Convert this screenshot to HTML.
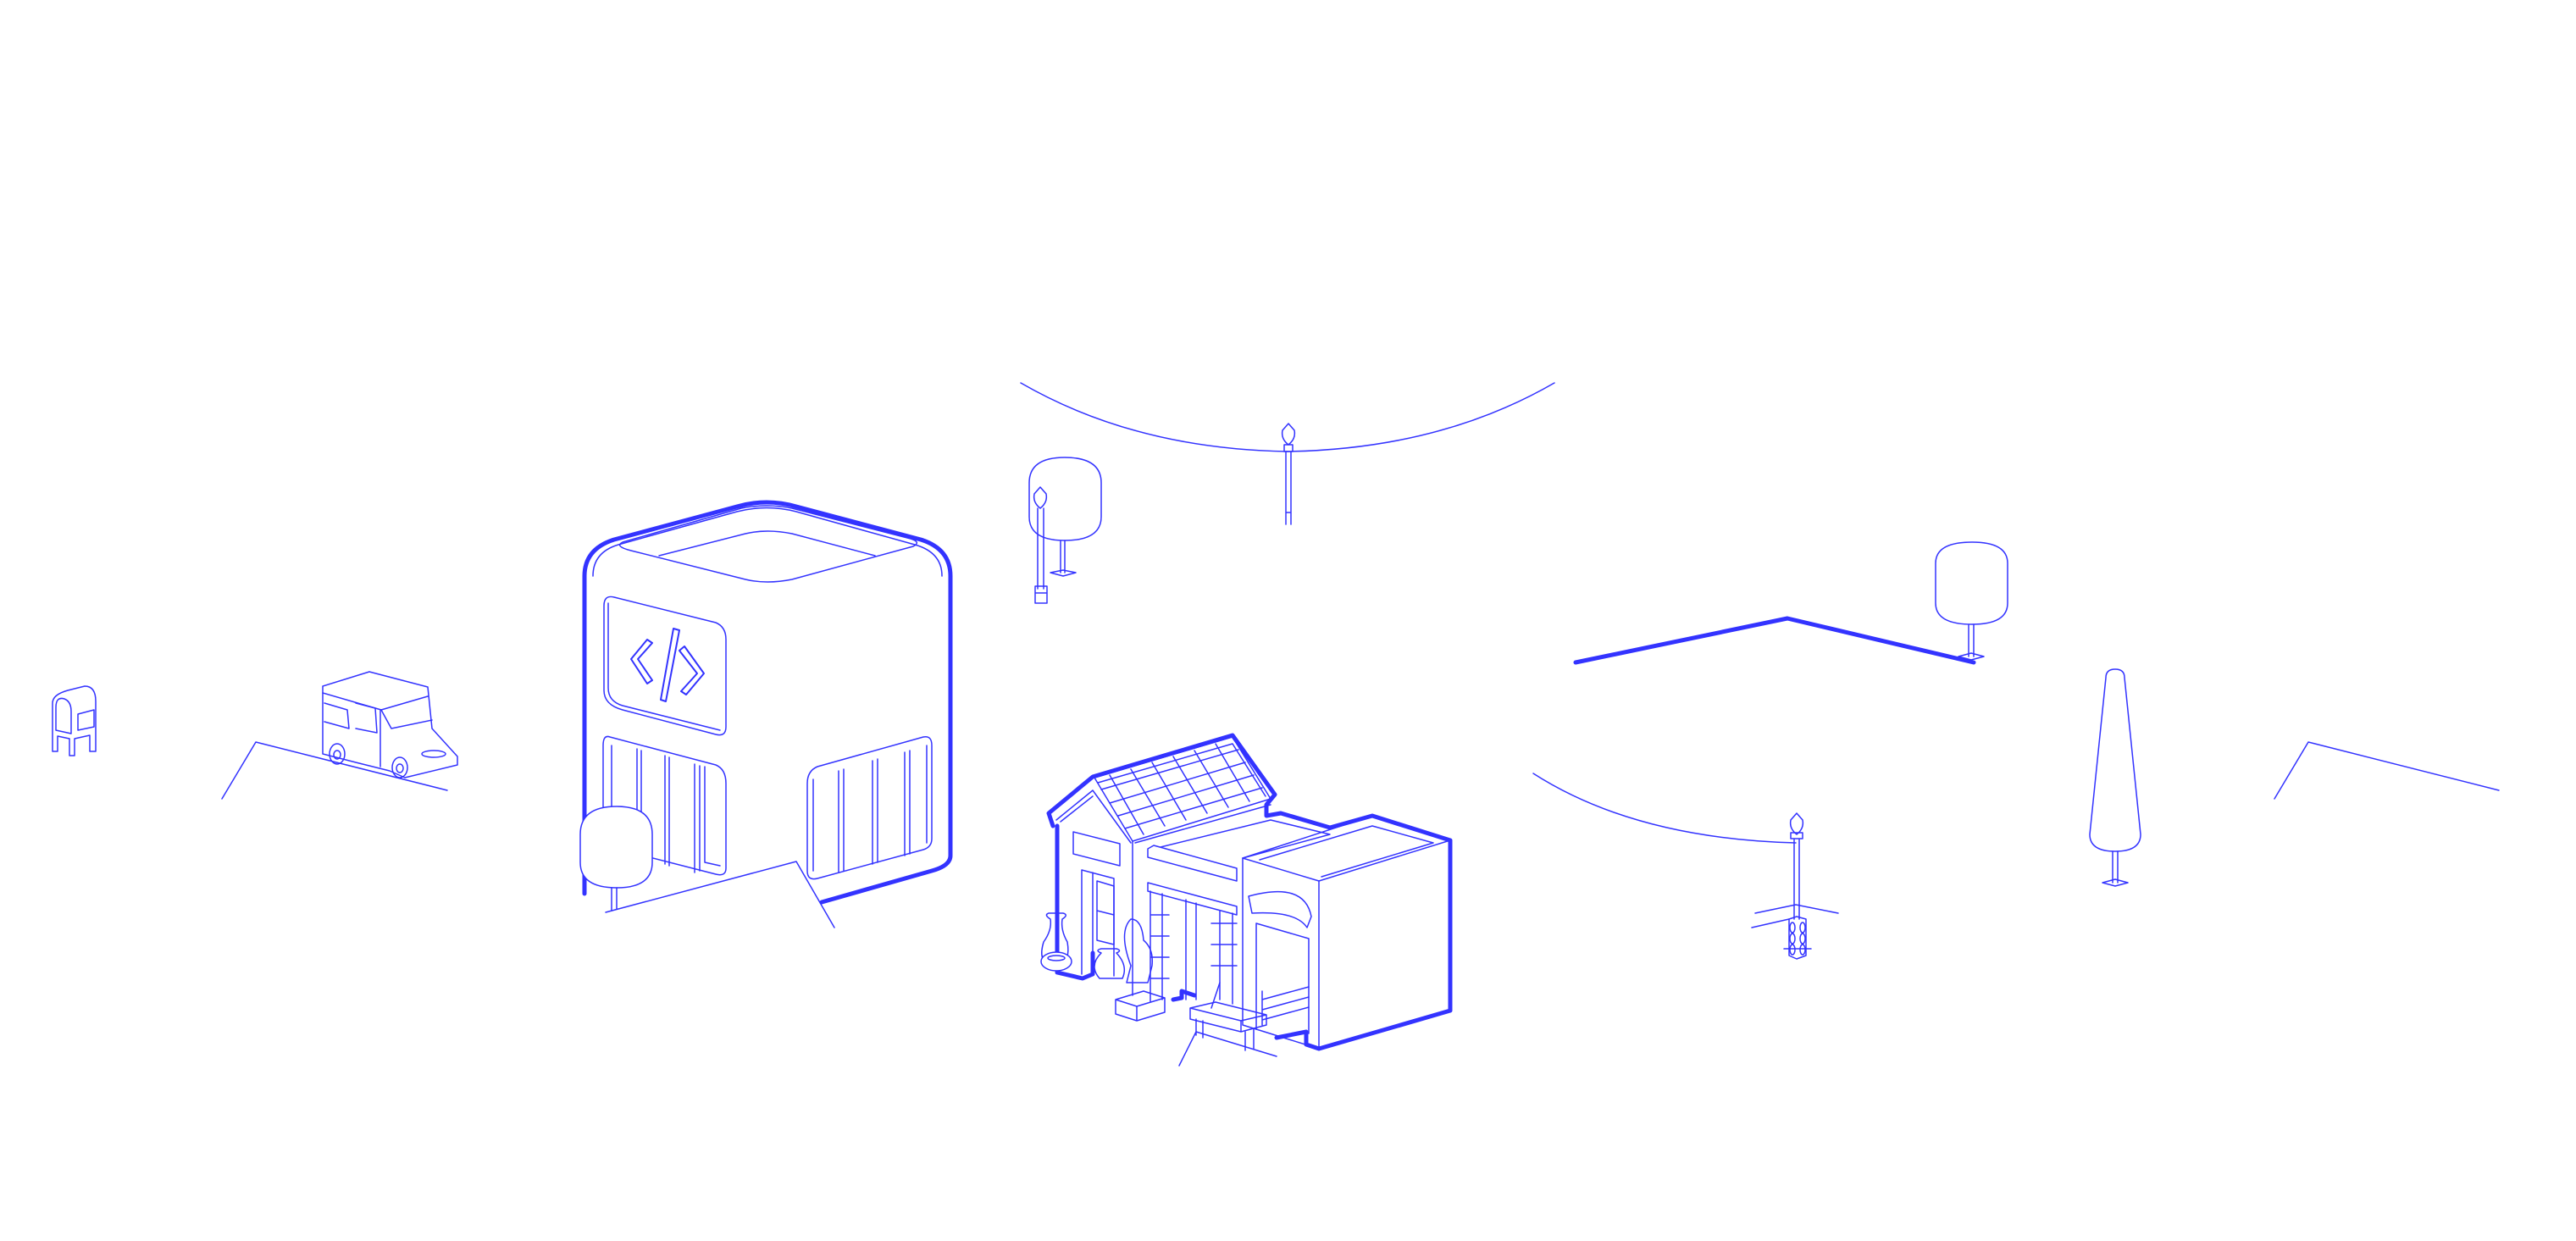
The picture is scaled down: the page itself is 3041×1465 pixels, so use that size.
<!DOCTYPE html>
<html><head><meta charset="utf-8"><style>
html,body{margin:0;padding:0;background:#fff;}
svg{display:block}
</style></head><body>
<svg width="3041" height="1465" viewBox="0 0 3041 1465" xmlns="http://www.w3.org/2000/svg">
<g fill="none" stroke="#3333ff" stroke-linejoin="round" stroke-linecap="round">
<!-- left ground + mailbox + truck -->
<g stroke-width="1.5">
<polyline points="262,943 302,876 528,933"/>
<path d="M62,887 V830 Q62,820 80,815 L100,810 Q113,810 113,828 V887 H106 V868 L88,872 V892 H82 V872 L68,869 V887 Z"/>
<path d="M66,862 V835 Q66,822 76,825 Q84,828 84,840 V866 Z"/>
<path d="M92,843 L111,838 V858 L92,862 Z"/>
<path d="M381,810 L436,793 L505,811 L510,860 L530,882 L540,893 L540,903 L478,918 L460,910 L420,900 L381,890 Z"/>
<path d="M381,818 L450,838 L505,822"/>
<path d="M450,838 L462,860 L510,850"/>
<path d="M383,830 L410,838 L412,860 L383,852"/>
<path d="M420,830 L443,836 L445,865 L420,860"/>
<line x1="449" y1="838" x2="449" y2="905"/>
<ellipse cx="398" cy="890" rx="9" ry="12"/><ellipse cx="398" cy="891" rx="4" ry="5"/>
<ellipse cx="472" cy="906" rx="9" ry="12"/><ellipse cx="472" cy="907" rx="4" ry="5"/>
<ellipse cx="512" cy="890" rx="14" ry="4"/>
</g>

<!-- big building -->
<g>
<path stroke-width="5" d="M690,1055 V680 Q690,648 725,637 L870,598 Q905,588 940,598 L1087,637 Q1122,648 1122,680 V1010 Q1122,1022 1100,1028 L970,1065"/>
<path stroke-width="1.5" d="M700,680 Q700,652 730,643 L870,604 Q905,595 940,604 L1080,643 Q1112,652 1112,680"/>
<path stroke-width="1.5" d="M735,640 Q725,645 745,650 L880,684 Q905,690 935,684 L1078,645 Q1088,640 1075,636 L935,600 Q905,594 875,600 Z"/>
<path stroke-width="1.5" d="M778,656 L880,630 Q905,624 935,630 L1033,656"/>
<path stroke-width="1.5" d="M725,705 L845,735 Q857,740 857,755 V858 Q857,870 845,867 L735,838 Q713,832 713,815 V715 Q713,702 725,705 Z"/>
<path stroke-width="1.5" d="M718,712 V812 Q718,828 735,833 L850,862"/>
<path stroke-width="2" d="M764,755 L745,778 L764,807 L770,803 L753,778 L770,759 Z"/>
<path stroke-width="2" d="M795,742 L802,744 L786,828 L780,826 Z"/>
<path stroke-width="2" d="M808,763 L831,795 L810,820 L804,816 L823,795 L802,768 Z"/>
<path stroke-width="1.5" d="M720,870 L845,903 Q857,908 857,925 V1025 Q857,1035 845,1032 L720,1000 Q712,997 712,985 V880 Q712,867 720,870 Z"/>
<path stroke-width="1.5" d="M722,880 V990 M752,884 V1010 M757,886 V1012 M785,892 V1020 M790,894 V1022 M820,902 V1030 M826,904 V1028 M832,905 V1018 L850,1022"/>
<path stroke-width="1.5" d="M965,905 L1090,870 Q1100,868 1100,880 V990 Q1100,1000 1090,1003 L965,1037 Q953,1040 953,1028 V925 Q953,910 965,905 Z"/>
<path stroke-width="1.5" d="M960,920 V1028 M990,910 V1030 M996,908 V1028 M1030,898 V1020 M1036,896 V1018 M1068,888 V1010 M1074,886 V1008 M1094,880 V995"/>
<path stroke-width="1.5" fill="#fff" d="M685,985 Q685,952 728,952 Q770,952 770,985 V1018 Q770,1048 728,1048 Q685,1048 685,1018 Z"/>
<path stroke-width="1.5" d="M722,1048 V1075 M728,1048 V1073"/>
<polyline stroke-width="1.5" points="715,1077 940,1017 985,1095"/>
</g>

<!-- center arc, lamps, tree -->
<g stroke-width="1.5">
<path d="M1205,452 Q1340,530 1520,533 Q1700,530 1835,452"/>
<path d="M1518,533 V619 M1524,533 V619 M1518,605 H1524 M1516,525 H1526 V533 H1516 Z"/>
<path d="M1521,500 L1528,508 Q1530,518 1521,525 Q1512,518 1514,508 Z"/>
<path d="M1215,570 Q1215,540 1257,540 Q1300,540 1300,570 V610 Q1300,638 1257,638 Q1215,638 1215,610 Z"/>
<path d="M1252,638 V676 M1257,638 V676 M1240,676 L1255,673 L1270,676 L1255,680 Z"/>
<path d="M1225,600 V695 M1232,600 V695 M1222,692 H1236 V712 H1222 Z M1222,700 H1236"/>
<path d="M1228,575 L1235,583 Q1237,593 1228,600 Q1219,593 1221,583 Z"/>
</g>

<!-- workshop -->
<g>
<path stroke-width="5" d="M1248,1148 L1278,1155 L1290,1150 V1125 M1243,975 L1238,960 L1290,917 L1455,868 L1505,938 L1495,950 V963 L1512,960 L1570,977 L1620,963 L1712,992 V1193 L1557,1238 L1542,1233 V1218 L1507,1225 M1248,975 V1148"/>
<path stroke-width="5" d="M1385,1180 L1395,1178 V1170 L1410,1175"/>
<g stroke-width="1.5">
<path d="M1292,918 L1455,870 L1500,943 L1337,993 Z"/>
<path d="M1296,924 L1455,878 L1494,940"/>
<path d="M1247,968 L1290,933 L1335,995 M1252,970 L1290,940"/>
<path d="M1310,915 L1350,985 M1335,908 L1375,975 M1360,900 L1400,968 M1385,893 L1425,960 M1410,886 L1450,953 M1435,878 L1475,946"/>
<path d="M1300,932 L1462,885 M1310,948 L1470,900 M1320,963 L1480,915 M1328,978 L1490,930"/>
<path d="M1337,993 V1175 M1340,995 L1500,950"/>
<path d="M1267,982 L1322,996 V1022 L1267,1008 Z"/>
<path d="M1277,1027 L1315,1037 V1152 M1277,1027 V1150 M1290,1030 V1150"/>
<path d="M1295,1040 L1315,1046 V1115 L1295,1110 Z M1295,1075 L1315,1080"/>
<path d="M1355,1002 L1362,998 L1460,1025 V1040 L1355,1012 Z"/>
<path d="M1355,1042 L1460,1070 V1080 L1355,1052 Z"/>
<path d="M1358,1052 V1182 M1372,1055 V1180 M1400,1062 V1180 M1412,1066 V1180 M1440,1075 V1180 M1455,1078 V1185 M1358,1080 H1380 M1358,1105 H1380 M1358,1130 H1380 M1358,1155 H1380 M1430,1090 H1460 M1430,1115 H1460 M1430,1140 H1460"/>
<path d="M1370,1000 L1500,968 L1570,985 L1467,1013"/>
<path d="M1467,1013 L1620,963 L1712,992 L1557,1040 Z"/>
<path d="M1487,1015 L1620,975 L1692,995 L1560,1035"/>
<path d="M1467,1013 V1210 L1557,1238 M1557,1040 V1238"/>
<path d="M1474,1058 Q1540,1040 1548,1082 L1543,1095 Q1530,1075 1478,1078 Z"/>
<path d="M1483,1090 L1545,1108 V1220 M1483,1090 V1215"/>
<path d="M1490,1180 L1545,1165 M1490,1192 L1545,1177 M1490,1204 L1545,1189 M1490,1170 V1210"/>
<path d="M1240,1085 Q1232,1080 1238,1078 H1255 Q1262,1080 1254,1085 Q1252,1098 1260,1112 Q1264,1135 1250,1140 H1240 Q1225,1135 1232,1112 Q1242,1098 1240,1085 Z"/>
<ellipse cx="1247" cy="1135" rx="18" ry="11" fill="#fff"/>
<ellipse cx="1247" cy="1131" rx="10" ry="3"/>
<path d="M1300,1125 Q1292,1122 1300,1120 H1318 Q1325,1122 1318,1125 Q1332,1140 1325,1155 H1298 Q1285,1140 1300,1125 Z"/>
<path d="M1335,1140 Q1320,1100 1335,1085 Q1348,1085 1350,1110 Q1362,1120 1360,1140 L1355,1160 H1330 Z"/>
<path d="M1317,1180 L1350,1170 L1375,1178 V1195 L1342,1205 L1317,1197 Z M1317,1180 L1342,1188 L1375,1178 M1342,1188 V1205"/>
<path d="M1405,1190 L1435,1183 L1495,1198 V1210 L1465,1218 L1405,1203 Z M1405,1190 L1465,1205 L1495,1198 M1465,1205 V1218"/>
<path d="M1412,1203 V1222 M1420,1205 V1225 M1470,1218 V1240 M1480,1215 V1238 M1430,1190 L1440,1160"/>
<polyline points="1392,1258 1412,1218 1507,1247"/>
</g>
</g>

<!-- right side -->
<g>
<polyline stroke-width="5" points="1860,782 2110,730 2330,782"/>
<g stroke-width="1.5">
<path d="M2285,665 Q2285,640 2328,640 Q2370,640 2370,665 V712 Q2370,737 2328,737 Q2285,737 2285,712 Z"/>
<path d="M2324,737 V775 M2330,737 V775 M2312,775 L2327,771 L2342,775 L2327,779 Z"/>
<path d="M2497,790 Q2508,790 2508,800 L2527,985 Q2527,1005 2497,1005 Q2467,1005 2467,985 L2486,800 Q2486,790 2497,790 Z"/>
<path d="M2494,1005 V1042 M2500,1005 V1042 M2482,1042 L2497,1038 L2512,1042 L2497,1046 Z"/>
<polyline points="2685,943 2725,876 2950,933"/>
<path d="M1810,913 Q1930,990 2120,995"/>
<path d="M2118,990 V1085 M2124,990 V1085 M2114,983 H2128 V990 H2114 Z"/>
<path d="M2121,960 L2128,968 Q2130,978 2121,985 Q2112,978 2114,968 Z"/>
<path d="M2072,1078 L2120,1068 L2170,1078 M2068,1095 L2112,1085"/>
<path d="M2112,1085 L2121,1082 L2132,1085 V1128 L2121,1132 L2112,1128 Z"/>
<ellipse cx="2116" cy="1095" rx="3" ry="6"/><ellipse cx="2128" cy="1095" rx="3" ry="6"/>
<ellipse cx="2116" cy="1108" rx="3" ry="6"/><ellipse cx="2128" cy="1108" rx="3" ry="6"/>
<ellipse cx="2116" cy="1121" rx="3" ry="6"/><ellipse cx="2128" cy="1121" rx="3" ry="6"/>
<path d="M2106,1120 H2138"/>
</g>
</g>
</g>
</svg>
</body></html>
